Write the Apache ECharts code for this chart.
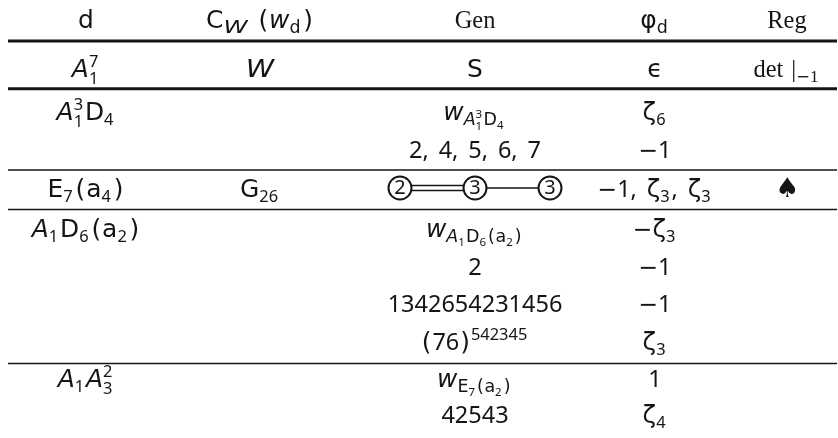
<!DOCTYPE html>
<html><head><meta charset="utf-8">
<script src="https://cdn.jsdelivr.net/npm/echarts@6/dist/echarts.min.js"></script>
<style>html,body{margin:0;padding:0;background:#fff}#c{width:838px;height:438px}</style>
</head><body><div id="c"></div>
<script>
// ---------------- DATA (table contents) ----------------
const headers      = ['d', 'C_W\\;(w_d)', '\\s{Gen}', 'φ_d', '\\s{Reg}'];
const classD       = ['A_1^7', 'A_1^3D_4', 'E_7(a_4)', 'A_1D_6(a_2)', 'A_1A_3^2'];
const centralizer  = ['W', '', 'G_{26}', '', ''];
const generators   = [['S'], ['w_{A_1^3D_4}', '2, 4, 5, 6, 7'], ['@diagram'],
                      ['w_{A_1D_6(a_2)}', '2', '1342654231456', '(76)^{542345}'],
                      ['w_{E_7(a_2)}', '42543']];
const eigenvalues  = [['ϵ'], ['ζ_6', '−1'], ['−1, ζ_3, ζ_3'], ['−ζ_3', '−1', '−1', 'ζ_3'], ['1', 'ζ_4']];
const regular      = ['\\s{det\\;|_{−1}}', '', '♠', '', ''];
const diagramNodes = ['2', '3', '3'];
const diagramBonds = [2, 1];

// ---------------- LAYOUT (table geometry) ----------------
const COL_X = [86, 260, 475, 655, 787];
const HEADER_BASE = 28;
const BAND_BASES = [[77], [120, 158], [197], [237, 275, 312, 350], [387, 423]];
const RULES = [[41, 3], [88.7, 3], [170, 1.6], [209.5, 1.6], [363.5, 1.6]];
const RULE_X = [8, 837];
const FS = 23.5;
const INK = '#151515';
const DIGIT_FAMILY = '"Noto Sans"';
const LETTER_FAMILY = '"DejaVu Sans"';
const SERIF_FAMILY = '"Liberation Serif"';
const NODE_GAP = 75, NODE_R = 11.5;

// ---------------- tiny math layout ----------------
const cv = document.createElement('canvas').getContext('2d');
function measure(t, f) { cv.font = f; return cv.measureText(t).width; }
function baseOff(f) { cv.font = f; cv.textBaseline = 'middle'; const m = cv.measureText('H'); cv.textBaseline = 'alphabetic'; return m.actualBoundingBoxDescent; }
function parse(s) {
  let i = 0;
  function group(serif) { const out = []; while (i < s.length && s[i] !== '}') out.push(atom(serif)); return out; }
  function base(serif) {
    if (s[i] === '{') { i++; const g = group(serif); i++; return { g }; }
    if (s.startsWith('\\s{', i)) { i += 3; const g = group(true); i++; return { g }; }
    if (s.startsWith('\\,', i)) { i += 2; return { sp: 0.17 }; }
    if (s.startsWith('\\;', i)) { i += 2; return { sp: 0.34 }; }
    if (s[i] === ' ') { i++; return { sp: 0.42 }; }
    const ch = String.fromCodePoint(s.codePointAt(i)); i += ch.length; return { ch, serif };
  }
  function atom(serif) {
    const a = { b: base(serif) };
    while (s[i] === '_' || s[i] === '^') { const k = s[i] === '_' ? 'sub' : 'sup'; i++; a[k] = base(serif); }
    return a;
  }
  return { g: group(false) };
}
function fontFor(ch, serif, size) {
  if (ch === '−') return `normal normal ${(size * 1.0).toFixed(2)}px ${LETTER_FAMILY}`;
  if (serif) return `normal normal ${(size * 1.04).toFixed(2)}px ${SERIF_FAMILY}`;
  if (/[0-9,]/.test(ch)) return `normal normal ${size.toFixed(2)}px ${DIGIT_FAMILY}`;
  if (ch === '♠') return `normal normal ${(size * 1.15).toFixed(2)}px ${LETTER_FAMILY}`;
  const it = /[AWw]/.test(ch) ? 'italic' : 'normal';
  return `${it} normal ${(size * 1.06).toFixed(2)}px ${LETTER_FAMILY}`;
}
function scaleFor(ch, size) {
  if (ch === 'W') return size < FS ? 1.4 : 1.15;
  return 1;
}
function lay(node, size, out, x, dy) {
  if (node.g) { let w = 0; for (const a of node.g) w += layAtom(a, size, out, x + w, dy); return w; }
  if (node.sp) return node.sp * size;
  const f = fontFor(node.ch, node.serif, size);
  const sx = scaleFor(node.ch, size);
  const pad = (node.ch === '(' || node.ch === ')') ? size * 0.04 : 0;
  out.push({ t: node.ch, x: x + pad, dy, f, sx });
  return measure(node.ch, f) * sx + 2 * pad;
}
function layAtom(a, size, out, x, dy) {
  const w = lay(a.b, size, out, x, dy);
  const ss = size * 0.7;
  let sw = 0;
  if (a.sub) sw = Math.max(sw, lay(a.sub, ss, out, x + w, dy + size * (a.sup ? 0.3 : 0.22)));
  if (a.sup) sw = Math.max(sw, lay(a.sup, ss, out, x + w, dy - size * 0.42));
  if (a.sub || a.sup) sw += size * 0.08;
  return w + sw;
}
function layoutTex(tex, size) { const out = []; const w = lay(parse(tex), size, out, 0, 0); return { out, w }; }

// ---------------- cells from data ----------------
const cells = [];
headers.forEach((h, c) => cells.push({ c, base: HEADER_BASE, tex: h }));
const columns = [classD, centralizer, generators, eigenvalues, regular];
columns.forEach((col, c) => col.forEach((v, b) => {
  const lines = Array.isArray(v) ? v : [v];
  lines.forEach((tex, l) => { if (tex) cells.push({ c, base: BAND_BASES[b][l], tex }); });
}));

function renderCell(params, api) {
  const cell = cells[params.dataIndex];
  const p = api.coord([COL_X[cell.c], cell.base]);
  if (cell.tex === '@diagram') {
    const children = [];
    const cy = p[1] - 9;
    const xs = diagramNodes.map((n, k) => api.coord([COL_X[cell.c] + (k - 1) * NODE_GAP, cell.base])[0]);
    diagramBonds.forEach((m, k) => {
      const x1 = xs[k] + NODE_R, x2 = xs[k + 1] - NODE_R;
      const offs = m === 2 ? [-2.6, 2.6] : [0];
      offs.forEach(o => children.push({ type: 'line', shape: { x1, y1: cy + o, x2, y2: cy + o }, style: { stroke: INK, lineWidth: 1.5 } }));
    });
    diagramNodes.forEach((n, k) => {
      children.push({ type: 'circle', shape: { cx: xs[k], cy, r: NODE_R }, style: { fill: '#fff', stroke: INK, lineWidth: 2 } });
      const f = `normal normal 20px ${DIGIT_FAMILY}`;
      children.push({ type: 'text', x: xs[k], y: cy + 0.5, style: { text: n, font: f, fill: INK, align: 'center', textAlign: 'center', verticalAlign: 'middle', textVerticalAlign: 'middle' } });
    });
    return { type: 'group', children };
  }
  const { out, w } = layoutTex(cell.tex, FS);
  const x0 = p[0] - w / 2;
  return {
    type: 'group',
    children: out.map(r => ({
      type: 'text', x: x0 + r.x, y: p[1] + r.dy - baseOff(r.f), scaleX: r.sx,
      style: { text: r.t, font: r.f, fill: INK, align: 'left', textAlign: 'left', verticalAlign: 'middle', textVerticalAlign: 'middle' }
    }))
  };
}
function renderRule(params, api) {
  const [y, lw] = RULES[params.dataIndex];
  const a = api.coord([RULE_X[0], y]), b = api.coord([RULE_X[1], y]);
  return { type: 'line', shape: { x1: a[0], y1: a[1], x2: b[0], y2: b[1] }, style: { stroke: INK, lineWidth: lw } };
}

const chart = echarts.init(document.getElementById('c'), null, { renderer: 'canvas' });
chart.setOption({
  animation: false,
  backgroundColor: '#fff',
  grid: { left: 0, right: 0, top: 0, bottom: 0 },
  xAxis: { type: 'value', min: 0, max: 838, show: false },
  yAxis: { type: 'value', min: 0, max: 438, inverse: true, show: false },
  series: [
    { type: 'custom', clip: false, renderItem: renderRule, data: RULES.map((r, i) => [i, i]), encode: { x: 0, y: 1 } },
    { type: 'custom', clip: false, renderItem: renderCell, data: cells.map((c, i) => [i, i]), encode: { x: 0, y: 1 } }
  ]
});
</script></body></html>
